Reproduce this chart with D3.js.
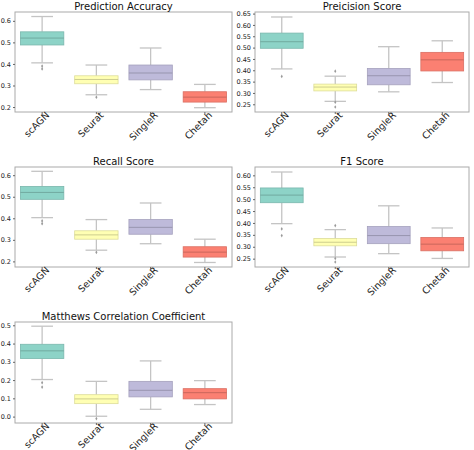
<!DOCTYPE html>
<html><head><meta charset="utf-8">
<script src="https://cdn.jsdelivr.net/npm/d3@7"></script>
<style>body{margin:0;background:#fff}text{font-family:"DejaVu Sans",sans-serif}</style>
</head><body><svg id="c" width="474" height="450"></svg>
<script>
const methods = ["scAGN","Seurat","SingleR","Chetah"];
const colors = ["#8dd3c7","#ffffb3","#bebada","#fb8072"];
// each stat: [low whisker, q1, median, q3, high whisker]
const accuracyStats = [[0.405,0.488,0.52,0.549,0.62],[0.257,0.308,0.328,0.345,0.395],[0.281,0.326,0.358,0.395,0.474],[0.197,0.223,0.246,0.271,0.305]];
const accuracyOutliers = [[0.39,0.377],[0.246],[],[]];
const precisionStats = [[0.406,0.497,0.526,0.564,0.635],[0.263,0.309,0.326,0.339,0.374],[0.305,0.336,0.376,0.408,0.504],[0.346,0.397,0.446,0.479,0.530]];
const precisionOutliers = [[0.373],[0.396,0.259,0.238],[],[]];
const recallStats = [[0.403,0.488,0.52,0.548,0.618],[0.252,0.303,0.323,0.342,0.394],[0.282,0.326,0.358,0.394,0.471],[0.195,0.22,0.243,0.268,0.303]];
const recallOutliers = [[0.388,0.375],[0.242],[],[]];
const f1Stats = [[0.397,0.485,0.517,0.547,0.614],[0.257,0.304,0.319,0.335,0.372],[0.271,0.313,0.347,0.385,0.472],[0.251,0.283,0.311,0.339,0.379]];
const f1Outliers = [[0.375,0.347],[0.389,0.251,0.236],[],[]];
const mccStats = [[0.203,0.318,0.36,0.396,0.495],[0.002,0.071,0.097,0.12,0.193],[0.04,0.108,0.144,0.193,0.305],[0.066,0.097,0.131,0.153,0.197]];
const mccOutliers = [[0.186,0.162],[-0.011],[],[]];
const accTicks=[0.2,0.3,0.4,0.5,0.6], precTicks=[0.25,0.30,0.35,0.40,0.45,0.50,0.55,0.60,0.65],
      recTicks=[0.2,0.3,0.4,0.5,0.6], f1Ticks=[0.25,0.30,0.35,0.40,0.45,0.50,0.55,0.60], mccTicks=[0.0,0.1,0.2,0.3,0.4,0.5];

const panels = [
 {title:"Prediction Accuracy",stats:accuracyStats,out:accuracyOutliers,dom:[0.177,0.641],ticks:accTicks,fmt:".1f",x:[15,232],y:[12,112]},
 {title:"Preicision Score",stats:precisionStats,out:precisionOutliers,dom:[0.216,0.657],ticks:precTicks,fmt:".2f",x:[255,469],y:[12,112]},
 {title:"Recall Score",stats:recallStats,out:recallOutliers,dom:[0.174,0.638],ticks:recTicks,fmt:".1f",x:[15,232],y:[167,267]},
 {title:"F1 Score",stats:f1Stats,out:f1Outliers,dom:[0.215,0.635],ticks:f1Ticks,fmt:".2f",x:[255,469],y:[167,267]},
 {title:"Matthews Correlation Coefficient",stats:mccStats,out:mccOutliers,dom:[-0.035,0.518],ticks:mccTicks,fmt:".1f",x:[15,232],y:[322,423]}
];
const svg=d3.select("#c");
panels.forEach(p=>{
  const g=svg.append("g");
  const x=d3.scaleBand().domain(methods).range(p.x).paddingInner(0).paddingOuter(0);
  const y=d3.scaleLinear().domain(p.dom).range([p.y[1],p.y[0]]);
  const bw=x.bandwidth()*0.8;
  p.stats.forEach((s,i)=>{
    const cx=x(methods[i])+x.bandwidth()/2;
    const wc="#c4c4c4";
    g.append("line").attr("x1",cx).attr("x2",cx).attr("y1",y(s[3])).attr("y2",y(s[4])).attr("stroke",wc).attr("stroke-width",1.3);
    g.append("line").attr("x1",cx).attr("x2",cx).attr("y1",y(s[1])).attr("y2",y(s[0])).attr("stroke",wc).attr("stroke-width",1.3);
    [s[0],s[4]].forEach(v=>g.append("line").attr("x1",cx-bw/4).attr("x2",cx+bw/4).attr("y1",y(v)).attr("y2",y(v)).attr("stroke",wc).attr("stroke-width",1.3));
    g.append("rect").attr("x",cx-bw/2).attr("width",bw).attr("y",y(s[3])).attr("height",y(s[1])-y(s[3])).attr("fill",colors[i]).attr("stroke",d3.color(colors[i]).darker(0.4)).attr("stroke-width",0.8);
    g.append("line").attr("x1",cx-bw/2).attr("x2",cx+bw/2).attr("y1",y(s[2])).attr("y2",y(s[2])).attr("stroke",d3.color(colors[i]).darker(0.8)).attr("stroke-width",0.8);
    p.out[i].forEach(v=>g.append("path").attr("d",d3.symbol(d3.symbolDiamond,4)()).attr("transform",`translate(${cx},${y(v)})`).attr("fill","#999"));
  });
  g.append("rect").attr("x",p.x[0]).attr("y",p.y[0]).attr("width",p.x[1]-p.x[0]).attr("height",p.y[1]-p.y[0]).attr("fill","none").attr("stroke","#aaa").attr("stroke-width",1);
  const ya=g.append("g").attr("transform",`translate(${p.x[0]},0)`).call(d3.axisLeft(y).tickValues(p.ticks).tickFormat(d3.format(p.fmt)).tickSize(2).tickPadding(2));
  ya.select(".domain").remove();
  ya.selectAll("text").attr("font-size",6.5).attr("fill","#222");
  ya.selectAll("line").attr("stroke","#666");
  const xa=g.append("g").attr("transform",`translate(0,${p.y[1]})`).call(d3.axisBottom(x).tickSize(2).tickPadding(2));
  xa.select(".domain").remove();
  xa.selectAll("line").attr("stroke","#666");
  xa.selectAll("text").attr("font-size",9.5).attr("fill","#222").attr("text-anchor","end").attr("dy","0.45em").attr("dx","0.3em").attr("transform","rotate(-45)");
  g.append("text").attr("x",(p.x[0]+p.x[1])/2).attr("y",p.y[0]-2).attr("text-anchor","middle").attr("font-size",10).attr("fill","#111").text(p.title);
});
</script></body></html>
